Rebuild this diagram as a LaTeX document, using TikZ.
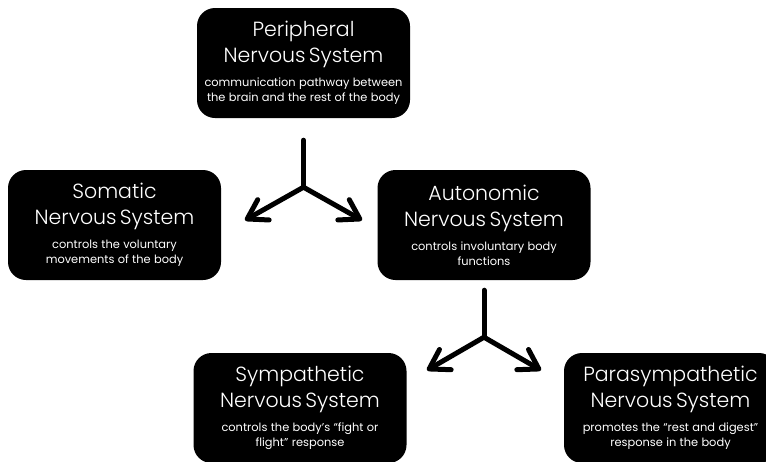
\documentclass[tikz,border=0pt]{standalone}
\usepackage{fontspec}
\setmainfont{Poppins}
\newfontfamily\lightfont{Poppins Light}
\usetikzlibrary{arrows.meta,calc}

\newcommand{\ttl}{\lightfont\fontsize{20.5}{26}\selectfont}
\newcommand{\sml}{\fontsize{11.4}{15}\selectfont}
\newcommand{\nstext}[2]{{\ttl #1\par}\vspace{9pt}{\sml #2\par}}

\tikzset{
  nsbox/.style={fill=black, text=white, rounded corners=18pt, minimum width=213pt,
    minimum height=110pt, text width=209pt, align=center, inner sep=2pt},
  fork/.style={line width=5pt, line cap=round, line join=round},
  forktip/.style={fork, -{Straight Barb[angle=64:22pt,round]}}
}

\begin{document}
\begin{tikzpicture}[x=1pt,y=-1pt]
    \useasboundingbox (0,0) rectangle (766,461);

    % boxes
    \node[nsbox] (pns) at (303.5,63) {\nstext{Peripheral\\Nervous System}{communication pathway between\\the brain and the rest of the body}};
    \node[nsbox] (sns) at (114.5,225) {\nstext{Somatic\\Nervous System}{controls the voluntary\\movements of the body}};
    \node[nsbox] (ans) at (484,225) {\nstext{Autonomic\\Nervous System}{controls involuntary body\\functions}};
    \node[nsbox] (sym) at (300,408) {\nstext{Sympathetic\\Nervous System}{controls the body's ``fight or\\flight'' response}};
    \node[nsbox] (psy) at (670.5,408) {\nstext{Parasympathetic\\Nervous System}{promotes the ``rest and digest''\\response in the body}};

    % forks
    \foreach \up/\a/\b/\c/\d in {pns/22/69/58.5/102, ans/10/57/57/90} {
        \coordinate (\up stem) at ($(\up.south)+(0,\a)$);
        \coordinate (\up fork) at ($(\up.south)+(0,\b)$);
        \coordinate (\up left) at ($(\up.south)+(-\c,\d)$);
        \coordinate (\up right) at ($(\up.south)+(\c,\d)$);
        \draw[fork] (\up stem) -- (\up fork);
        \draw[forktip] (\up fork) -- (\up left);
        \draw[forktip] (\up fork) -- (\up right);
    }
\end{tikzpicture}
\end{document}
